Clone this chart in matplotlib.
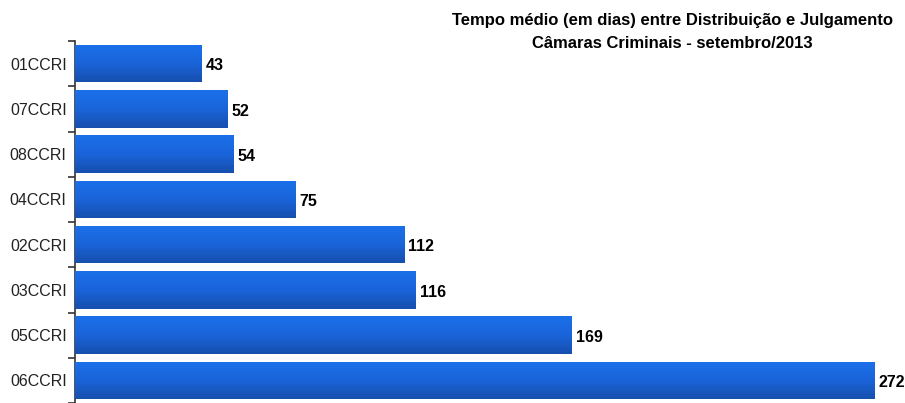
import matplotlib
matplotlib.use("Agg")
import matplotlib.pyplot as plt
import numpy as np
from matplotlib.colors import LinearSegmentedColormap

categories = ["01CCRI", "07CCRI", "08CCRI", "04CCRI", "02CCRI", "03CCRI", "05CCRI", "06CCRI"]
values = [43, 52, 54, 75, 112, 116, 169, 272]
title_lines = ["Tempo médio (em dias) entre Distribuição e Julgamento",
               "Câmaras Criminais - setembro/2013"]

plt.rcParams['font.family'] = ['Liberation Sans', 'DejaVu Sans']

fig = plt.figure(figsize=(9.05, 4.03), dpi=100)
ax = fig.add_axes([75/905, 0.0, 1 - 75/905, 1 - 41/403])

n = len(categories)
ypos = np.arange(n)
bars = ax.barh(ypos, values, height=0.83, color="#1a62d6", edgecolor="none", zorder=2)

cmap = LinearSegmentedColormap.from_list("g", ["#1b70ea", "#1a64da", "#174fae"])
grad = np.linspace(0, 1, 64).reshape(-1, 1)
for b in bars:
    x0, y0 = b.get_x(), b.get_y()
    w, h = b.get_width(), b.get_height()
    im = ax.imshow(grad, cmap=cmap, aspect="auto", extent=(x0, x0 + w, y0 + h, y0),
                   zorder=3, interpolation="bicubic")
    im.set_clip_path(b)
ax.set_ylim(n - 0.5, -0.5)
ax.set_xlim(0, (905 - 75) / (799 / 272))

for y, v in zip(ypos, values):
    t = ax.text(v + 1.4, y + 0.05, str(v), va="center", ha="left", fontsize=11.5,
                fontweight="bold", color="black")
    t.set_clip_on(False)

for s in ["top", "right", "bottom"]:
    ax.spines[s].set_visible(False)
ax.spines["left"].set_color("#333333")
ax.spines["left"].set_linewidth(1.2)
ax.set_xticks([])
ax.set_yticks(np.arange(n + 1) - 0.5)
ax.set_yticklabels([])
ax.tick_params(axis="y", which="major", length=5, width=1.2, color="#333333")
ax.set_yticks(ypos, minor=True)
ax.set_yticklabels(categories, minor=True, fontsize=11.5, color="#222222")
ax.tick_params(axis="y", which="minor", length=0, pad=6)

fig.text(672/905, 1 - 20/403, title_lines[0], ha="center", va="center",
         fontsize=12, fontweight="bold")
fig.text(672/905, 1 - 43/403, title_lines[1], ha="center", va="center",
         fontsize=12, fontweight="bold")

fig.savefig("out.png", dpi=100)
